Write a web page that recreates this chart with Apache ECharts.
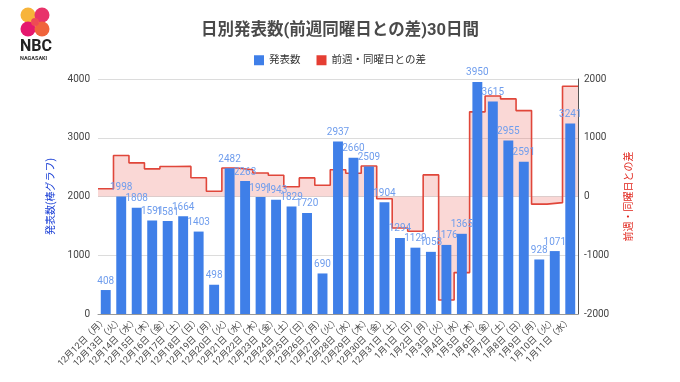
<!DOCTYPE html>
<html>
<head>
<meta charset="utf-8">
<script src="https://cdn.jsdelivr.net/npm/echarts@6/dist/echarts.min.js"></script>
<style>html,body{margin:0;padding:0;background:#fff;}#c{width:680px;height:382px;}</style>
</head>
<body>
<div id="c"></div>
<script>
const categories = ['12月12日（月）','12月13日（火）','12月14日（水）','12月15日（木）','12月16日（金）','12月17日（土）','12月18日（日）','12月19日（月）','12月20日（火）','12月21日（水）','12月22日（木）','12月23日（金）','12月24日（土）','12月25日（日）','12月26日（月）','12月27日（火）','12月28日（水）','12月29日（木）','12月30日（金）','12月31日（土）','1月1日（日）','1月2日（月）','1月3日（火）','1月4日（水）','1月5日（木）','1月6日（金）','1月7日（土）','1月8日（日）','1月9日（月）','1月10日（火）','1月11日（水）'];
const counts = [408,1998,1808,1591,1581,1664,1403,498,2482,2263,1991,1943,1829,1720,690,2937,2660,2509,1904,1294,1129,1058,1176,1365,3950,3615,2955,2591,928,1071,3241];
const diffs = [131,698,573,471,510,512,318,90,484,455,400,362,165,317,192,455,397,518,-39,-535,-591,368,-1761,-1295,1441,1711,1661,1462,-130,-105,1876];
const leftTicks = {min:0, max:4000, interval:1000};
const rightTicks = {min:-2000, max:2000, interval:1000};

const FONT = 'Roboto, "Noto Sans CJK JP", sans-serif';
// step series: one extra point so the last step spans the full last category
const stepData = diffs.concat([diffs[diffs.length-1]]);
const stepCats = stepData.map((_, i) => String(i));
const plain = v => String(v);

const chart = echarts.init(document.getElementById('c'), null, {renderer:'canvas'});
chart.setOption({
  backgroundColor:'#fff',
  animation:false,
  textStyle:{fontFamily:FONT},
  title:{
    text:'日別発表数(前週同曜日との差)30日間',
    left:'center', top:18,
    textStyle:{fontSize:16.5, fontWeight:'bold', color:'#4a4a4a', fontFamily:FONT}
  },
  legend:{
    top:50, left:'center', itemWidth:10, itemHeight:10, itemGap:16,
    icon:'rect',
    textStyle:{fontSize:10.5, color:'#333', fontFamily:FONT},
    data:['発表数','前週・同曜日との差']
  },
  grid:{left:98, right:102, top:79, bottom:68, containLabel:false},
  xAxis:[
    {type:'category', data:categories, boundaryGap:true,
     axisLine:{show:true, lineStyle:{color:'#999', width:1}},
     axisTick:{show:false},
     axisLabel:{rotate:45, interval:0, fontSize:9, color:'#444', margin:5, fontFamily:FONT}},
    {type:'category', data:stepCats, boundaryGap:false, show:false}
  ],
  yAxis:[
    {type:'value', position:'left', min:leftTicks.min, max:leftTicks.max, interval:leftTicks.interval,
     name:'発表数(棒グラフ)', nameLocation:'middle', nameGap:40, nameRotate:90,
     nameTextStyle:{color:'#1a3fd6', fontSize:10, fontFamily:FONT},
     axisLine:{show:false}, axisTick:{show:false},
     axisLabel:{fontSize:10, color:'#444', margin:8, formatter:plain},
     splitLine:{lineStyle:{color:'#dcdcdc', width:1}}},
    {type:'value', position:'right', min:rightTicks.min, max:rightTicks.max, interval:rightTicks.interval,
     name:'前週・同曜日との差', nameLocation:'middle', nameGap:46, nameRotate:90,
     nameTextStyle:{color:'#e0241b', fontSize:10, fontFamily:FONT},
     axisLine:{show:true, lineStyle:{color:'#555', width:1}}, axisTick:{show:false},
     axisLabel:{fontSize:10, color:'#444', margin:6, formatter:plain},
     splitLine:{show:false}}
  ],
  series:[
    {name:'前週・同曜日との差', type:'line', xAxisIndex:1, yAxisIndex:1, step:'end',
     data:stepData, symbol:'none', z:1,
     itemStyle:{color:'#e53e33'},
     lineStyle:{color:'#e0463a', width:1.6},
     areaStyle:{color:'rgba(236,110,100,0.38)', origin:0}},
    {name:'発表数', type:'bar', xAxisIndex:0, yAxisIndex:0, data:counts, barWidth:'64%', z:3,
     itemStyle:{color:'#3f7fe8'},
     label:{show:true, position:'top', distance:4, fontSize:10, color:'#6f9ded', fontFamily:FONT}}
  ],
  graphic:[
    {type:'circle', shape:{cx:28, cy:15, r:7.5}, style:{fill:'#f7b43a'}},
    {type:'circle', shape:{cx:42, cy:15, r:7.5}, style:{fill:'#e8336a'}},
    {type:'circle', shape:{cx:28, cy:29, r:7.5}, style:{fill:'#e5186e'}},
    {type:'circle', shape:{cx:42, cy:29, r:7.5}, style:{fill:'#f0643c'}},
    {type:'circle', shape:{cx:35, cy:22, r:4}, style:{fill:'#ee4a55'}},
    {type:'text', left:20, top:39, style:{text:'NBC', fontSize:16, fontWeight:'bold', fill:'#222', fontFamily:'Roboto, sans-serif'}},
    {type:'text', left:20, top:56, style:{text:'NAGASAKI', fontSize:5.5, fontWeight:'bold', fill:'#333', fontFamily:'Roboto, sans-serif'}}
  ]
});
</script>
</body>
</html>
